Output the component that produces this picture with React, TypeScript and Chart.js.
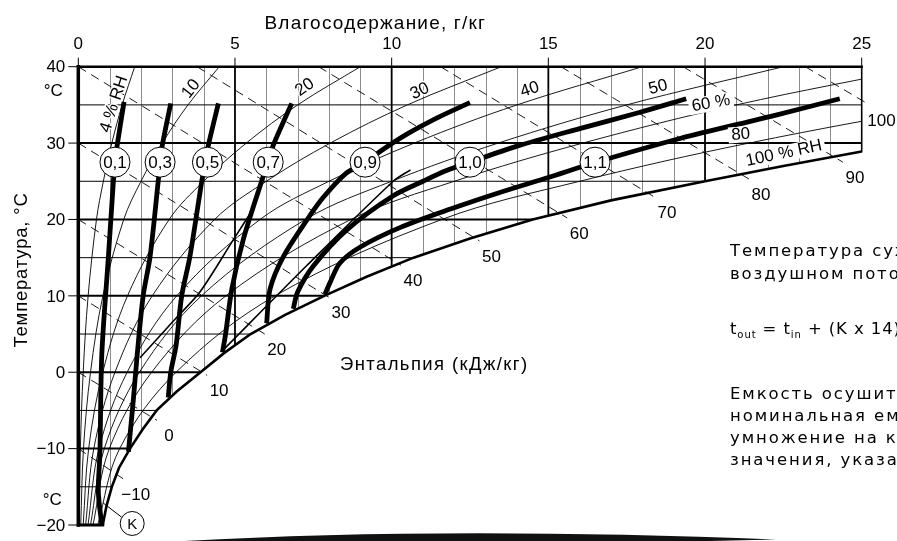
import React, { useEffect, useRef } from "react";
import { Chart, registerables } from "chart.js";

Chart.register(...registerables);

// ---------------- data ----------------
const moistureTicks = [0, 5, 10, 15, 20, 25];
const temperatureTicks = [40, 30, 20, 10, 0, -10, -20];
const moistureGrid = [1, 2, 3, 4, 5, 6, 7, 8, 9, 10, 11, 12, 13, 14, 15, 16, 17, 18, 19, 20, 21, 22, 23, 24];
const temperatureGrid = [-15, -10, -5, 0, 5, 10, 15, 20, 25, 30, 35];

// saturation (100 % RH) curve
const saturationT = [-20, -17.5, -15, -12.5, -10, -7.5, -5, -2.5, 0, 2.5, 5, 7.5, 10, 12.5, 15, 17.5, 20, 22.5, 25, 27, 28.9];
const saturationX = [0.78, 0.9, 1.07, 1.3, 1.65, 2.05, 2.5, 3.15, 3.9, 4.65, 5.5, 6.6, 7.85, 9.2, 10.7, 12.5, 14.5, 17.0, 20.0, 22.5, 25.0];

// relative humidity lines
const rhT = [-20, -10, 0, 10, 20, 25, 30, 35, 40];
const rh04X = [0.03, 0.066, 0.156, 0.314, 0.58, 0.8, 1.07, 1.4, 1.8];
const rh10X = [0.078, 0.165, 0.39, 0.785, 1.45, 2.0, 2.68, 3.5, 4.5];
const rh20X = [0.156, 0.33, 0.78, 1.57, 2.9, 4.0, 5.36, 7.0, 9.0];
const rh30X = [0.234, 0.495, 1.17, 2.36, 4.35, 6.0, 8.04, 10.5, 13.5];
const rh40X = [0.31, 0.66, 1.56, 3.14, 5.8, 8.0, 10.72, 14.0, 18.0];
const rh50X = [0.39, 0.83, 1.95, 3.93, 7.25, 10.0, 13.4, 17.5, 22.5];
const rh60X = [0.47, 0.99, 2.34, 4.71, 8.7, 12.0, 16.1, 21.0, 27.0];
const rh80X = [0.62, 1.32, 3.12, 6.28, 11.6, 16.0, 21.4, 28.0, 36.0];

// enthalpy lines (kJ/kg): start and end points [g/kg, °C]
const enthalpyValues = [-10, 0, 10, 20, 30, 40, 50, 60, 70, 80, 90, 100];
const enthalpyStart: [number, number][] = [
  [0, -10], [0, 0], [0, 10], [0, 20], [0, 30], [0, 40],
  [3.79, 40], [7.67, 40], [11.56, 40], [15.4, 40], [19.3, 40], [23.2, 40],
];
const enthalpyEnd: [number, number][] = [
  [1.45, -14.0], [2.51, -6.3], [4.11, -0.4], [5.95, 5.0], [8.0, 9.8], [10.3, 14.0],
  [12.8, 17.2], [15.6, 20.2], [18.4, 22.9], [21.4, 25.3], [24.4, 27.5], [25.25, 35.0],
];

// capacity curves (K factor)
const kLabels = ["0,1", "0,3", "0,5", "0,7", "0,9", "1,0", "1,1"];
const kCenterX = [1.17, 2.61, 4.12, 6.06, 9.15, 12.5, 16.49];
const kCenterT = [27.5, 27.5, 27.5, 27.5, 27.5, 27.5, 27.5];
const curveK01: [number, number][] = [[0.75, -20], [0.64, -15.7], [0.69, -10.6], [0.75, 2.3], [0.96, 15.1], [1.12, 25], [1.17, 27.5], [1.24, 29.7], [1.46, 35.4]];
const curveK03: [number, number][] = [[1.6, -10.4], [1.75, -3.9], [1.88, 2.3], [2.07, 10], [2.29, 15.1], [2.55, 25], [2.61, 27.5], [2.68, 29.7], [2.95, 35.2]];
const curveK05: [number, number][] = [[2.87, -3.3], [2.95, 0], [3.12, 3.5], [3.3, 10], [3.56, 15.1], [3.94, 25], [4.05, 27.5], [4.15, 29.7], [4.47, 35.2]];
const curveK07: [number, number][] = [[4.6, 2.6], [4.7, 5], [4.9, 10.9], [5.26, 17.3], [5.85, 25], [6.06, 27.6], [6.22, 29.7], [6.81, 35.2]];
const curveK09: [number, number][] = [[6.01, 6.4], [6.12, 10.9], [6.54, 15.1], [7.29, 19.9], [7.8, 22.8], [8.56, 26.1], [9.15, 27.4], [9.63, 28.9], [10.5, 31.2], [11.5, 33.4], [12.5, 35.3]];
const curveK10: [number, number][] = [[6.86, 8.3], [7.0, 10.5], [7.5, 13.9], [8.56, 18.6], [10.05, 23.1], [11.0, 25.0], [11.75, 26.4], [12.5, 27.5], [14.0, 29.6], [16.0, 31.9], [17.9, 34.0], [19.4, 35.8]];
const curveK11: [number, number][] = [[7.87, 10.2], [8.03, 11.7], [8.35, 14.3], [9.0, 16.4], [10.3, 19.0], [11.9, 21.4], [13.5, 23.6], [15.0, 25.5], [16.49, 27.45], [19.2, 30.6], [22.2, 33.6], [24.3, 35.8]];
const capacityCurves = [curveK01, curveK03, curveK05, curveK07, curveK09, curveK10, curveK11];

// medium auxiliary lines
const auxLine1: [number, number][] = [[4.6, 2.8], [7.3, 14], [10.05, 25], [10.6, 26.5]];
const auxLine2: [number, number][] = [[1.97, 1.9], [3.1, 7], [3.88, 10.5], [4.94, 17.3], [5.6, 21.5]];

// K marker
const kMarker: [number, number] = [1.72, -19.8];
const kLeader: [number, number][] = [[0.79, -17.1], [1.39, -19.0]];

// ---------------- text ----------------
const FONT = '"Liberation Sans", Arial, sans-serif';
const TEXT_FONT = '"DejaVu Sans", sans-serif';
const topTitle = "Влагосодержание, г/кг";
const leftTitle = "Температура, °C";
const enthalpyTitle = "Энтальпия (кДж/кг)";
const rhLabels = ["4 % RH", "10", "20", "30", "40", "50", "60 %", "80", "100 % RH"];
const rhLabelPos: [number, number, number, number][] = [
  [1.14, 35.1, -72, 0], [3.6, 37.1, -52, 0], [7.23, 37.3, -35, 0], [10.9, 36.8, -25, 0],
  [14.41, 37.0, -18, 0], [18.5, 37.3, -14, 0], [20.19, 35.2, -10, 1], [21.14, 31.1, -4, 1], [22.52, 28.65, -12, 1],
];
const noteLines1 = ["Температура сухого воздуха в", "воздушном потоке процесса:"];
const noteLines2 = ["Емкость осушителя равна", "номинальная емкость,", "умножение на коэффициент", "значения, указанные на графике"];

const pts = (xs: number[], ys: number[]) => xs.map((x, i) => ({ x, y: ys[i] }));
const pairs = (p: [number, number][]) => p.map(([x, y]) => ({ x, y }));

const setSpacing = (ctx: any, v: string) => {
  try { ctx.letterSpacing = v; } catch (e) {}
};

const psyPlugin = {
  id: "psy",
  beforeDatasetsDraw(chart: any) {
    const { ctx, scales } = chart;
    const X = (v: number) => scales.x.getPixelForValue(v);
    const Y = (v: number) => scales.y.getPixelForValue(v);
    ctx.save();
    ctx.beginPath();
    ctx.moveTo(X(0), Y(-20));
    ctx.lineTo(X(0), Y(40));
    ctx.lineTo(X(25), Y(40));
    for (let i = saturationT.length - 1; i >= 0; i--) ctx.lineTo(X(saturationX[i]), Y(saturationT[i]));
    ctx.closePath();
    ctx.clip();
    ctx.strokeStyle = "#8c8c8c";
    ctx.lineWidth = 1;
    moistureGrid.filter((g) => g % 5 !== 0).forEach((g) => {
      ctx.beginPath();
      ctx.moveTo(Math.round(X(g)) + 0.5, Y(40));
      ctx.lineTo(Math.round(X(g)) + 0.5, Y(-20));
      ctx.stroke();
    });
    ctx.strokeStyle = "#000";
    temperatureGrid.forEach((t) => {
      ctx.lineWidth = t % 10 === 0 ? 2 : 1;
      ctx.beginPath();
      ctx.moveTo(X(0), Y(t));
      ctx.lineTo(X(25), Y(t));
      ctx.stroke();
    });
    moistureGrid.filter((g) => g % 5 === 0).forEach((g) => {
      ctx.lineWidth = 1.8;
      ctx.beginPath();
      ctx.moveTo(X(g), Y(40));
      ctx.lineTo(X(g), Y(-20));
      ctx.stroke();
    });
    ctx.restore();
  },
  afterDatasetsDraw(chart: any) {
    const { ctx, scales, height } = chart;
    const X = (v: number) => scales.x.getPixelForValue(v);
    const Y = (v: number) => scales.y.getPixelForValue(v);
    ctx.save();
    ctx.strokeStyle = "#000";
    ctx.lineCap = "square";
    const seg = (x1: number, y1: number, x2: number, y2: number, w: number) => {
      ctx.lineWidth = w;
      ctx.beginPath();
      ctx.moveTo(x1, y1);
      ctx.lineTo(x2, y2);
      ctx.stroke();
    };
    seg(X(0), Y(-20), X(0), Y(40), 3.5);
    seg(X(0), Y(40), X(25), Y(40), 2.5);
    seg(X(25), Y(40), X(25), Y(28.9), 1.6);
    seg(X(0), Y(-20), X(saturationX[0]), Y(-20), 3);
    ctx.lineCap = "butt";
    temperatureTicks.forEach((t) => seg(X(0) - 10, Y(t), X(0), Y(t), 1));
    moistureTicks.forEach((g) => seg(X(g), Y(40) - 9, X(g), Y(40), 1));

    ctx.fillStyle = "#000";
    ctx.font = `17px ${FONT}`;
    ctx.textAlign = "right";
    ctx.textBaseline = "middle";
    temperatureTicks.forEach((t) => ctx.fillText(t < 0 ? "\u2212" + Math.abs(t) : String(t), X(0) - 13, Y(t) + 1));
    ctx.textAlign = "center";
    ctx.fillText("°C", X(0) - 25, Y(40) + 25);
    ctx.fillText("°C", X(0) - 26, Y(-20) - 25);
    moistureTicks.forEach((g) => ctx.fillText(String(g), X(g), Y(40) - 22));

    // titles
    ctx.font = `19px ${FONT}`;
    setSpacing(ctx, "1.2px");
    ctx.fillText(topTitle, X(0) + 297, 24);
    ctx.save();
    ctx.translate(22, 270);
    ctx.rotate(-Math.PI / 2);
    ctx.font = `18.5px ${FONT}`;
    setSpacing(ctx, "0.8px");
    ctx.fillText(leftTitle, 0, 0);
    ctx.restore();
    ctx.font = `18.5px ${FONT}`;
    setSpacing(ctx, "1.4px");
    ctx.textAlign = "left";
    ctx.fillText(enthalpyTitle, 340, 365);
    setSpacing(ctx, "0px");

    // enthalpy labels
    ctx.font = `17px ${FONT}`;
    ctx.textAlign = "center";
    enthalpyValues.forEach((h, i) => {
      const [ex, et] = enthalpyEnd[i];
      ctx.fillText(h < 0 ? "\u2212" + Math.abs(h) : String(h), X(ex) + 12, Y(et) + 16);
    });

    // RH labels
    rhLabels.forEach((s, i) => {
      const [lx, lt, ang, box] = rhLabelPos[i];
      ctx.save();
      ctx.translate(X(lx), Y(lt));
      ctx.rotate((ang * Math.PI) / 180);
      ctx.font = `17px ${FONT}`;
      if (box) {
        const w = ctx.measureText(s).width;
        ctx.fillStyle = "#fff";
        ctx.fillRect(-w / 2 - 3, -8, w + 6, 16);
        ctx.fillStyle = "#000";
      } else {
        ctx.strokeStyle = "#fff";
        ctx.lineWidth = 3;
        ctx.lineJoin = "round";
        ctx.strokeText(s, 0, 0);
      }
      ctx.fillText(s, 0, 0);
      ctx.restore();
    });

    // circle labels
    ctx.font = `17px ${FONT}`;
    kLabels.forEach((s, i) => ctx.fillText(s, X(kCenterX[i]), Y(kCenterT[i]) + 1));
    ctx.font = `15px ${FONT}`;
    ctx.fillText("K", X(kMarker[0]), Y(kMarker[1]) + 1);

    // right note
    ctx.font = `16.5px ${TEXT_FONT}`;
    setSpacing(ctx, "1.9px");
    ctx.textAlign = "left";
    const nx = 730;
    noteLines1.forEach((s, i) => ctx.fillText(s, nx, 252 + i * 23));
    let cx = nx;
    const part = (s: string, size: number, dy: number) => {
      ctx.font = `${size}px ${TEXT_FONT}`;
      ctx.fillText(s, cx, 330 + dy);
      cx += ctx.measureText(s).width;
    };
    setSpacing(ctx, "0.9px");
    part("t", 16.5, 0);
    part("out", 10, 5);
    part(" = t", 16.5, 0);
    part("in", 10, 5);
    part(" + (K x 14)", 16.5, 0);
    setSpacing(ctx, "1.9px");
    ctx.font = `16.5px ${TEXT_FONT}`;
    noteLines2.forEach((s, i) => ctx.fillText(s, nx, 395 + i * 22));
    setSpacing(ctx, "0px");

    // bottom brush stroke
    ctx.beginPath();
    ctx.moveTo(176, height + 0.5);
    ctx.quadraticCurveTo(440, 526, 776, height - 1.5);
    ctx.quadraticCurveTo(480, height + 6, 176, height + 0.5);
    ctx.closePath();
    ctx.fillStyle = "#111";
    ctx.fill();
    ctx.restore();
  },
};

export default function App() {
  const ref = useRef<HTMLCanvasElement | null>(null);
  useEffect(() => {
    if (!ref.current) return;
    const base = { showLine: true, pointRadius: 0, borderColor: "#000", fill: false };
    const list: any[] = [];
    [rh04X, rh10X, rh20X, rh30X, rh40X, rh50X, rh60X, rh80X].forEach((xs) =>
      list.push({ ...base, data: pts(xs, rhT), borderWidth: 0.9, tension: 0.35 })
    );
    enthalpyValues.forEach((_, i) =>
      list.push({ ...base, data: pairs([enthalpyStart[i], enthalpyEnd[i]]), borderWidth: 0.9, borderDash: [9, 6], clip: false })
    );
    [auxLine1, auxLine2].forEach((p) => list.push({ ...base, data: pairs(p), borderWidth: 1.6, tension: 0.3 }));
    list.push({ ...base, data: pts(saturationX, saturationT), borderWidth: 2.6, tension: 0, clip: false });
    list.push({ ...base, data: pairs(kLeader), borderWidth: 1, clip: false });
    capacityCurves.forEach((c) => list.push({ ...base, data: pairs(c), borderWidth: 4.8, tension: 0.3, clip: false, borderCapStyle: "butt" }));
    list.push({
      showLine: false,
      data: pts(kCenterX, kCenterT),
      pointRadius: 15,
      pointBackgroundColor: "#fff",
      pointBorderColor: "#000",
      pointBorderWidth: 1,
    });
    list.push({
      showLine: false,
      data: [{ x: kMarker[0], y: kMarker[1] }],
      pointRadius: 12,
      pointBackgroundColor: "#fff",
      pointBorderColor: "#000",
      pointBorderWidth: 1,
      clip: false,
    });
    list.forEach((d, i) => (d.order = list.length - i));

    const chart = new Chart(ref.current, {
      type: "scatter",
      data: { datasets: list },
      options: {
        animation: false,
        responsive: false,
        events: [],
        layout: { padding: { left: 78.3, right: 35.3, top: 66.7, bottom: 7.7 } },
        plugins: { legend: { display: false }, tooltip: { enabled: false } },
        scales: {
          x: { type: "linear", min: 0, max: 25, display: false },
          y: { type: "linear", min: -20, max: 40, display: false },
        },
      },
      plugins: [psyPlugin],
    } as any);
    return () => chart.destroy();
  }, []);
  return (
    <div style={{ position: "absolute", left: 0, top: 0, width: 897, height: 541, background: "#fff", overflow: "hidden" }}>
      <canvas ref={ref} width={897} height={541} style={{ display: "block" }} />
    </div>
  );
}
